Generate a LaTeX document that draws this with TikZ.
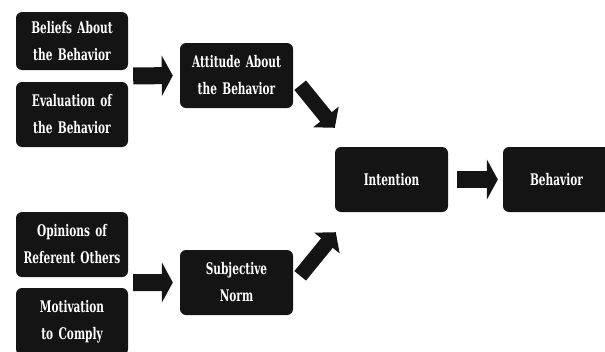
\documentclass[tikz,border=0pt]{standalone}
\usepackage{fontspec}
\setmainfont{DejaVu Serif}
\newfontfamily\boxfont[FakeStretch=0.66]{DejaVu Serif Bold}
\usetikzlibrary{arrows.meta,calc}
\definecolor{boxblack}{HTML}{141414}
\tikzset{
  box/.style={fill=boxblack, rounded corners=6pt, text=white, align=center,
    font=\boxfont\fontsize{16}{27}\selectfont, inner sep=0pt, text width=#1},
  box/.default=110pt,
  harrow/.style={draw=boxblack, line width=17pt, -{Triangle[width=40pt,length=11pt]}},
  darrow/.style={draw=boxblack, line width=15pt, -{Triangle[width=32pt,length=14pt]}}
}
\begin{document}
\begin{tikzpicture}[x=1pt,y=-1pt]
\useasboundingbox (0,0) rectangle (605,351);
\node[box, minimum width=112pt, minimum height=58pt] (bel) at (72,41) {Beliefs About\\the Behavior};
\node[box, minimum width=112pt, minimum height=65pt] (eva) at (72,114.5) {Evaluation of\\the Behavior};
\node[box, minimum width=113pt, minimum height=65pt] (att) at (236.5,75.5) {Attitude About\\the Behavior};
\node[box, minimum width=112pt, minimum height=65pt] (opi) at (72,244.5) {Opinions of\\Referent Others};
\node[box, minimum width=112pt, minimum height=67pt] (mot) at (72,321.5) {Motivation\\to Comply};
\node[box, minimum width=113pt, minimum height=65pt] (sub) at (236.5,282.5) {Subjective\\Norm};
\node[box, minimum width=113pt, minimum height=65pt] (int) at (391.5,179.5) {Intention};
\node[box=105pt, minimum width=107pt, minimum height=65pt] (beh) at (556.5,179.5) {Behavior};
\draw[harrow, shorten <=5pt, shorten >=7pt] ($(bel.south east)!0.5!(eva.north east)$) -- (att.west);
\draw[harrow, shorten <=5pt, shorten >=7pt] ($(opi.south east)!0.5!(mot.north east)$) -- (sub.west);
\draw[harrow, shorten <=9pt, shorten >=5pt] (int.east) -- (beh.west);
\draw[darrow] ($(att.south east)+(7,-23)$) -- ($(int.north west)+(0,-19)$);
\draw[darrow] ($(sub.north east)+(7,26)$) -- ($(int.south west)+(1,20)$);
\end{tikzpicture}
\end{document}
